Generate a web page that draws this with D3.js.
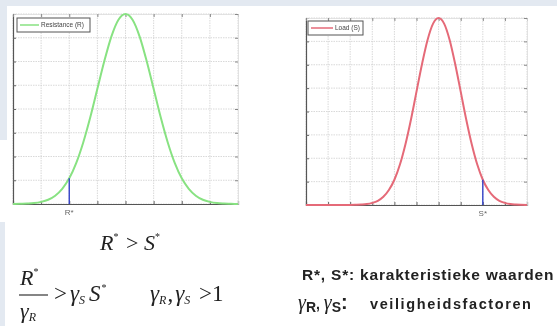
<!DOCTYPE html>
<html><head><meta charset="utf-8">
<script src="https://cdn.jsdelivr.net/npm/d3@7"></script>
<style>html,body{margin:0;padding:0;background:#fff;}svg{display:block;}</style>
</head><body>
<svg id="c" width="557" height="326"></svg>
<script>
// ---- data ----
// Resistance curve (left panel): x in tick units 0..8, y in tick units 0..8
const resX = [0,0.25,0.5,0.75,1,1.25,1.5,1.75,2,2.25,2.5,2.75,3,3.25,3.5,3.75,4,4.25,4.5,4.75,5,5.25,5.5,5.75,6,6.25,6.5,6.75,7,7.25,7.5,7.75,8];
const resY = [0.00,0.01,0.02,0.04,0.09,0.18,0.35,0.64,1.08,1.73,2.60,3.66,4.85,6.03,7.06,7.76,8.00,7.76,7.06,6.03,4.85,3.66,2.60,1.73,1.08,0.64,0.35,0.18,0.09,0.04,0.02,0.01,0.00];
// Load curve (right panel): x in tick units 0..10
const loadX = [0,0.5,1,1.5,2,2.25,2.5,2.75,3,3.25,3.5,3.75,4,4.25,4.5,4.75,5,5.25,5.5,5.75,6,6.25,6.5,6.75,7,7.25,7.5,7.75,8,8.25,8.5,8.75,9,9.25,9.5,10];
const loadY = [0,0,0,0,0.003,0.01,0.02,0.04,0.09,0.18,0.35,0.64,1.08,1.73,2.60,3.66,4.85,6.03,7.06,7.76,8.00,7.76,7.06,6.03,4.85,3.66,2.60,1.73,1.08,0.64,0.35,0.18,0.09,0.04,0.02,0.00];
const leftTicksX = [0,1,2,3,4,5,6,7,8];
const rightTicksX = [0,1,2,3,4,5,6,7,8,9,10];
const ticksY = [0,1,2,3,4,5,6,7,8];
const rStar = {x: 2, y: 1.08, label: "R*"};
const sStar = {x: 8, y: 1.08, label: "S*"};
const legendLeft = "Resistance (R)";
const legendRight = "Load (S)";

const svg = d3.select("#c");
const bg = "#e3e9f1";
svg.append("rect").attr("x",0).attr("y",0).attr("width",557).attr("height",6).attr("fill",bg);
svg.append("rect").attr("x",0).attr("y",0).attr("width",7).attr("height",140).attr("fill",bg);
svg.append("rect").attr("x",0).attr("y",222).attr("width",5).attr("height",104).attr("fill",bg);

const g = svg.append("g").style("filter","blur(0.35px)");

function panel(opt){
  const x = d3.scaleLinear().domain(opt.xd).range(opt.xr);
  const y = d3.scaleLinear().domain([0,8]).range(opt.yr);
  const p = g.append("g");
  // grid
  p.selectAll(".vg").data(opt.xt).join("line")
    .attr("x1",d=>x(d)).attr("x2",d=>x(d)).attr("y1",y(0)).attr("y2",y(8))
    .attr("stroke","#cfcfcf").attr("stroke-width",0.8).attr("stroke-dasharray","1.5,1");
  p.selectAll(".hg").data(ticksY).join("line")
    .attr("x1",x(opt.xd[0])).attr("x2",x(opt.xd[1])).attr("y1",d=>y(d)).attr("y2",d=>y(d))
    .attr("stroke","#cfcfcf").attr("stroke-width",0.8).attr("stroke-dasharray","1.5,1");
  // axes (ticks inward)
  const ax = p.append("g").attr("transform",`translate(0,${y(0)})`)
    .call(d3.axisBottom(x).tickValues(opt.xt).tickSize(-3).tickFormat(""));
  const ay = p.append("g").attr("transform",`translate(${x(opt.xd[0])},0)`)
    .call(d3.axisLeft(y).tickValues(ticksY).tickSize(-3).tickFormat(""));
  const at = p.append("g").attr("transform",`translate(0,${y(8)})`)
    .call(d3.axisTop(x).tickValues(opt.xt).tickSize(-3).tickFormat(""));
  const ar = p.append("g").attr("transform",`translate(${x(opt.xd[1])},0)`)
    .call(d3.axisRight(y).tickValues(ticksY).tickSize(-3).tickFormat(""));
  [ax,ay].forEach(a=>{a.select(".domain").attr("stroke","#555").attr("stroke-width",1.2);a.selectAll(".tick line").attr("stroke","#666");});
  [at,ar].forEach(a=>{a.select(".domain").attr("stroke","#ddd").attr("stroke-width",0.8);a.selectAll(".tick line").attr("stroke","#888");});
  // curve
  const pts = opt.cx.map((v,i)=>[v,opt.cy[i]]);
  p.append("path").datum(pts)
    .attr("d",d3.line().x(d=>x(d[0])).y(d=>y(d[1])).curve(d3.curveMonotoneX))
    .attr("fill","none").attr("stroke",opt.color).attr("stroke-width",2);
  // characteristic value
  p.append("line").attr("x1",x(opt.star.x)).attr("x2",x(opt.star.x))
    .attr("y1",y(0)).attr("y2",y(opt.star.y)).attr("stroke","#3543c8").attr("stroke-width",1.4);
  p.append("text").attr("x",x(opt.star.x)).attr("y",y(0)+11).attr("text-anchor","middle")
    .attr("font-family","Liberation Sans, Arial").attr("font-size",8).attr("fill","#666").text(opt.star.label);
  // legend
  const L = opt.leg;
  p.append("rect").attr("x",L.x).attr("y",L.y).attr("width",L.w).attr("height",L.h)
    .attr("fill","#fff").attr("stroke","#555").attr("stroke-width",1);
  p.append("line").attr("x1",L.x+3).attr("x2",L.x+3+L.lw).attr("y1",L.y+L.h/2).attr("y2",L.y+L.h/2)
    .attr("stroke",opt.color).attr("stroke-width",1.5);
  p.append("text").attr("x",L.x+L.lw+5).attr("y",L.y+L.h/2+2.3).attr("font-family","Liberation Sans, Arial")
    .attr("font-size",6.5).attr("fill","#444").text(L.text);
}

panel({xd:[0,8], xr:[13,238], yr:[204,14], xt:leftTicksX, cx:resX, cy:resY, color:"#88e282", star:rStar,
       leg:{x:17,y:18,w:73,h:14,lw:19,text:legendLeft}});
panel({xd:[0,10], xr:[306,527], yr:[205,18], xt:rightTicksX, cx:loadX, cy:loadY, color:"#e56a78", star:sStar,
       leg:{x:308,y:21,w:55,h:14,lw:22,text:legendRight}});

// ---- formulas ----
const serif = "Liberation Serif, Times New Roman, serif";
const t1 = g.append("text").attr("x",100).attr("y",250).attr("font-family",serif).attr("font-size",22).attr("font-style","italic").attr("fill","#222");
t1.append("tspan").text("R");
t1.append("tspan").attr("font-size",10).attr("dy",-10).attr("font-style","normal").text("*");
t1.append("tspan").attr("dy",10).attr("font-style","normal").attr("dx",2).text(" > ");
t1.append("tspan").text("S");
t1.append("tspan").attr("font-size",10).attr("dy",-10).attr("font-style","normal").text("*");

// fraction
const num = g.append("text").attr("x",20).attr("y",285).attr("font-family",serif).attr("font-size",22).attr("font-style","italic").attr("fill","#222");
num.append("tspan").text("R");
num.append("tspan").attr("font-size",10).attr("dy",-10).attr("font-style","normal").text("*");
g.append("line").attr("x1",19).attr("x2",48).attr("y1",295).attr("y2",295).attr("stroke","#222").attr("stroke-width",1.1);
const den = g.append("text").attr("x",20).attr("y",318).attr("font-family",serif).attr("font-size",22).attr("font-style","italic").attr("fill","#222");
den.append("tspan").text("γ");
den.append("tspan").attr("font-size",12).attr("dy",3).text("R");

const t2 = g.append("text").attr("x",54).attr("y",301).attr("font-family",serif).attr("font-size",23).attr("fill","#222");
t2.append("tspan").text(">");
t2.append("tspan").attr("font-style","italic").attr("dx",3).text("γ");
t2.append("tspan").attr("font-style","italic").attr("font-size",12).attr("dy",3).text("S");
t2.append("tspan").attr("font-style","italic").attr("dy",-3).attr("dx",4).text("S");
t2.append("tspan").attr("font-size",10).attr("dy",-10).attr("dx",1).text("*");

const t3 = g.append("text").attr("x",150).attr("y",301).attr("font-family",serif).attr("font-size",23).attr("fill","#222");
t3.append("tspan").attr("font-style","italic").text("γ");
t3.append("tspan").attr("font-style","italic").attr("font-size",12).attr("dy",3).text("R");
t3.append("tspan").attr("dy",-3).attr("dx",1).text(",");
t3.append("tspan").attr("font-style","italic").attr("dx",2).text("γ");
t3.append("tspan").attr("font-style","italic").attr("font-size",12).attr("dy",3).text("S");
t3.append("tspan").attr("dy",-3).attr("dx",3).text(" >1");

// ---- right-hand notes ----
const sans = "Liberation Sans, Arial, sans-serif";
g.append("text").attr("x",302).attr("y",280).attr("font-family",sans).attr("font-weight","bold")
  .attr("font-size",15.5).attr("letter-spacing",0.8).attr("fill","#222").text("R*, S*: karakteristieke waarden");
const n2 = g.append("text").attr("x",298).attr("y",309).attr("font-family",sans).attr("font-weight","bold").attr("fill","#222");
n2.append("tspan").attr("font-family",serif).attr("font-weight","normal").attr("font-style","italic").attr("font-size",20).text("γ");
n2.append("tspan").attr("font-size",14).attr("dy",3).text("R");
n2.append("tspan").attr("font-size",14).attr("dy",-3).text(", ");
n2.append("tspan").attr("font-family",serif).attr("font-weight","normal").attr("font-style","italic").attr("font-size",20).text("γ");
n2.append("tspan").attr("font-size",14).attr("dy",3).text("S");
n2.append("tspan").attr("font-size",20).attr("dy",-3).text(":");
n2.append("tspan").attr("x",370).attr("font-size",14.5).attr("letter-spacing",1.6).text("veiligheidsfactoren");
</script>
</body></html>
